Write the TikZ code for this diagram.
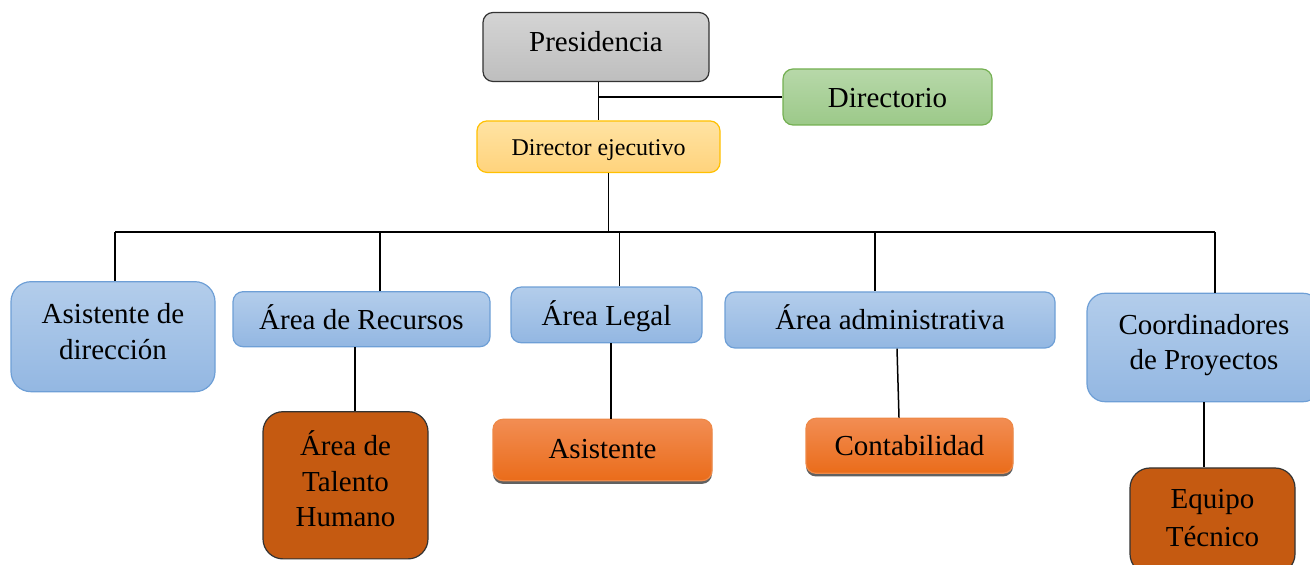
\documentclass[tikz,border=0pt]{standalone}
\usepackage{fontspec}
\setmainfont{Liberation Serif}
\usetikzlibrary{shadows}
\definecolor{grayT}{HTML}{D4D4D4}
\definecolor{grayB}{HTML}{BEBEBE}
\definecolor{greenT}{HTML}{B7D8A9}
\definecolor{greenB}{HTML}{9CC989}
\definecolor{greenD}{HTML}{74B052}
\definecolor{yelT}{HTML}{FFE3A3}
\definecolor{yelB}{HTML}{FFD37C}
\definecolor{yelD}{HTML}{FFC000}
\definecolor{bluT}{HTML}{B3CDEB}
\definecolor{bluB}{HTML}{93B7E2}
\definecolor{bluD}{HTML}{6E9FD6}
\definecolor{oraT}{HTML}{F28D53}
\definecolor{oraB}{HTML}{EA6C1A}
\definecolor{brown}{HTML}{C55A11}
% #1 = distance of the last baseline below the box centre, #2 = lines
\newcommand\bltxt[2]{\raisebox{-#1}[0pt][0pt]{\begin{tabular}[b]{@{}c@{}}#2\end{tabular}}}
\tikzset{
  box/.style={rounded corners=5pt, inner sep=0pt, line width=0.6pt,
    font=\fontsize{14.5}{17.8}\selectfont},
  grbox/.style={box, draw=black!80, top color=grayT, bottom color=grayB},
  gnbox/.style={box, draw=greenD, top color=greenT, bottom color=greenB},
  ylbox/.style={box, draw=yelD, top color=yelT, bottom color=yelB, font=\fontsize{12}{14}\selectfont},
  blbox/.style={box, draw=bluD, top color=bluT, bottom color=bluB},
  orbox/.style={box, draw=oraB!80!white, top color=oraT, bottom color=oraB,
    drop shadow={shadow xshift=0pt, shadow yshift=-1.6pt, fill=black!62, opacity=1}},
  brbox/.style={box, rounded corners=10pt, draw=black!80, fill=brown},
  conn/.style={draw=black, line width=0.75pt},
}
\begin{document}
\begin{tikzpicture}[x=0.5pt, y=-0.5pt]
\useasboundingbox (0,0) rectangle (1310,565);
\clip (0,0) rectangle (1310,565);
% top
\node[grbox, minimum width=113pt, minimum height=34.5pt] (pres) at (596,47) {\bltxt{2.4pt}{Presidencia}};
\node[gnbox, minimum width=104.5pt, minimum height=28pt] (dir) at (887.5,97) {\bltxt{5.3pt}{Directorio}};
\node[ylbox, minimum width=121.5pt, minimum height=25.75pt] (dej) at (598.5,146.7) {\bltxt{4.2pt}{Director ejecutivo}};
% level 2
\node[blbox, rounded corners=10pt, minimum width=102pt, minimum height=55pt] (asd) at (113,336.7) {\bltxt{11.2pt}{Asistente de\\dirección}};
\node[blbox, minimum width=128.5pt, minimum height=27.5pt] (rec) at (361.5,319.2) {\bltxt{5pt}{Área de Recursos}};
\node[blbox, minimum width=95.5pt, minimum height=27.8pt] (leg) at (606.5,314.9) {\bltxt{5.3pt}{Área Legal}};
\node[blbox, minimum width=165pt, minimum height=28pt] (adm) at (890,320) {\bltxt{5pt}{Área administrativa}};
\node[blbox, rounded corners=9pt, minimum width=117pt, minimum height=54.2pt] (coo) at (1204,347.5) {\bltxt{11.2pt}{Coordinadores\\de Proyectos}};
% level 3
\node[brbox, minimum width=82.5pt, minimum height=73.6pt] (tal) at (345.5,485.3) {\bltxt{20.8pt}{Área de\\Talento\\Humano}};
\node[orbox, minimum width=109.5pt, minimum height=30.7pt] (asi) at (602.5,450) {\bltxt{4.2pt}{Asistente}};
\node[orbox, minimum width=103.5pt, minimum height=27.5pt] (con) at (909.5,445.8) {\bltxt{5pt}{Contabilidad}};
\node[brbox, minimum width=82.5pt, minimum height=53pt] (equ) at (1212.5,521) {\bltxt{12.8pt}{Equipo\\[1pt]Técnico}};
% bus coordinates
\coordinate (bL) at (115,232);
\coordinate (bR) at (1215,232);
\coordinate (bD) at (608.5,232);
\coordinate (b2) at (380,232);
\coordinate (b3) at (619.5,232);
\coordinate (b4) at (875,232);
% connectors
\draw[conn] (dej.north |- pres.south) -- (dej.north);
\draw[conn] (dir.west) -- (dir.west -| dej.north);
\draw[conn] (bD |- dej.south) -- (bD);
\draw[conn] (bL) -- (bR);
\draw[conn] (bL) -- (bL |- asd.north);
\draw[conn] (b2) -- (b2 |- rec.north);
\draw[conn] (b3) -- (b3 |- leg.north);
\draw[conn] (b4) -- (b4 |- adm.north);
\draw[conn] (bR) -- (bR |- coo.north);
\draw[conn] ([xshift=4.75pt]tal.north |- rec.south) -- ([xshift=4.75pt]tal.north);
\draw[conn] ([xshift=4.25pt]asi.north |- leg.south) -- ([xshift=4.25pt]asi.north);
\draw[conn] ([xshift=3.5pt]adm.south) -- ([xshift=-5.25pt]con.north);
\draw[conn] ([xshift=-4.25pt]equ.north |- coo.south) -- ([xshift=-4.25pt]equ.north);
\end{tikzpicture}
\end{document}
